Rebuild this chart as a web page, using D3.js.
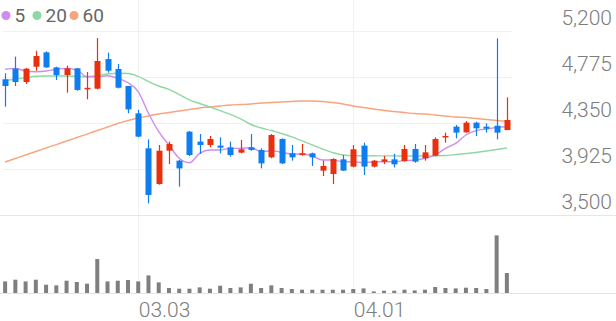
<!DOCTYPE html>
<html>
<head>
<meta charset="utf-8">
<script src="https://cdn.jsdelivr.net/npm/d3@7/dist/d3.min.js"></script>
<style>
  html, body { margin: 0; padding: 0; background: #fff; }
  svg { display: block; font-family: Roboto, "Noto Sans", sans-serif; }
</style>
</head>
<body>
<div id="chart"></div>
<script>
// trading days (MM.DD)
const dates = ["02.06","02.09","02.10","02.11","02.12","02.13","02.19","02.20","02.23","02.24",
  "02.25","02.26","02.27","03.03","03.04","03.05","03.06","03.09","03.10","03.11",
  "03.12","03.13","03.16","03.17","03.18","03.19","03.20","03.23","03.24","03.25",
  "03.26","03.27","03.30","03.31","04.01","04.02","04.03","04.06","04.07","04.08",
  "04.09","04.10","04.13","04.14","04.15","04.16","04.17","04.20","04.21","04.22"];

const open  = [4754,4852,4729,4870,5003,4864,4793,4855,4665,4667,4941,4849,4692,4439,4116,3786,4094,4002,4270,4178,
  4147,4141,4125,4076,4125,4101,4033,4202,4070,4054,4070,3910,3879,4014,3947,4141,3947,3993,4014,3999,
  4110,4024,4048,4218,4316,4264,4353,4316,4325,4285];
const high  = [4809,4963,4858,5018,5012,4870,4880,4858,4821,5135,5000,4895,4692,4470,4199,4147,4178,4010,4275,4248,
  4230,4218,4178,4193,4248,4116,4248,4208,4147,4156,4076,4002,4024,4054,4147,4168,4008,4045,4064,4147,
  4156,4147,4218,4261,4332,4368,4362,4347,5132,4587];
const low   = [4501,4692,4710,4833,4858,4747,4630,4649,4569,4661,4815,4670,4439,4218,3608,3780,3971,3762,4045,4064,
  4125,4070,4039,4070,4094,3931,4024,3971,4002,4048,3953,3860,3786,3907,3940,3870,3940,3971,3940,3993,
  3983,4002,4045,4168,4208,4261,4230,4261,4199,4285];
const close = [4692,4729,4852,4969,4864,4793,4855,4655,4675,4923,4833,4676,4476,4224,3685,4094,4156,3931,4054,4147,
  4202,4122,4054,4107,4101,3977,4239,3977,4033,4070,4033,3953,4017,3910,4107,3947,4002,4014,3968,4110,
  3993,4079,4202,4230,4261,4353,4301,4298,4261,4378];

const volume = [1160,1330,1160,1330,830,760,1230,1100,930,3400,1160,1230,1300,1160,1760,1060,500,430,430,560,
  430,730,500,560,930,500,760,500,400,330,330,330,330,330,400,460,160,230,230,330,
  260,330,600,500,460,530,500,400,5760,2000];

// moving averages as drawn
const ma5  = [4846,4855,4830,4824,4830,4846,4855,4840,4778,4778,4787,4763,4722,4639,4440,4270,4147,4024,3983,4070,
  4101,4101,4116,4116,4122,4085,4094,4079,4064,4064,4045,4008,4008,3992,3992,3983,3992,3992,3992,4002,
  4008,4024,4054,4116,4162,4239,4279,4295,4310,4316];
const ma20 = [4741,4757,4769,4782,4784,4784,4784,4781,4778,4789,4803,4809,4807,4780,4733,4692,4660,4613,4563,4530,
  4498,4465,4429,4387,4336,4304,4281,4253,4221,4184,4147,4110,4077,4054,4048,4048,4047,4046,4046,4045,
  4045,4045,4045,4050,4059,4068,4077,4091,4105,4119];
const ma60 = [3990,4022,4054,4087,4119,4151,4184,4216,4248,4281,4313,4345,4373,4396,4415,4433,4447,4461,4475,4489,
  4498,4507,4516,4521,4526,4535,4539,4544,4549,4553,4553,4549,4539,4526,4507,4493,4479,4465,4456,4447,
  4438,4433,4424,4415,4405,4401,4392,4382,4373,4364];

const priceTicks = [5200, 4775, 4350, 3925, 3500];
const dateTicks = ["03.03", "04.01"];
const maNames = ["5", "20", "60"];

const width = 616, height = 321;
const plotRight = 512;
const colUp = "#e8300e", colDown = "#0d7df0";
const maColors = ["#d08cec", "#8fd8a2", "#f8a47f"];

const svg = d3.select("#chart").append("svg")
  .attr("width", width)
  .attr("height", height);

const x = d3.scaleBand().domain(dates).range([0, plotRight]);
const cx = d => x(d) + x.bandwidth() / 2;

const y = d3.scaleLinear().domain([3500, 5200]).range([215, 31]);
const yv = d3.scaleLinear().domain([0, 6800]).range([293, 225]);

// grid
svg.append("g").selectAll("line")
  .data(priceTicks.slice(0, -1))
  .join("line")
  .attr("x1", 3).attr("x2", plotRight)
  .attr("y1", d => Math.round(y(d)) + 0.5).attr("y2", d => Math.round(y(d)) + 0.5)
  .attr("stroke", "#f1f1f1");

svg.append("g").selectAll("line")
  .data(dateTicks)
  .join("line")
  .attr("x1", d => Math.round(cx(d)) + 0.5).attr("x2", d => Math.round(cx(d)) + 0.5)
  .attr("y1", 0).attr("y2", 293)
  .attr("stroke", "#f1f1f1");

// separators
svg.append("line")
  .attr("x1", 0).attr("x2", width)
  .attr("y1", Math.round(y(3500)) + 0.5).attr("y2", Math.round(y(3500)) + 0.5)
  .attr("stroke", "#e6e6e6");
svg.append("line")
  .attr("x1", 0).attr("x2", width)
  .attr("y1", 293.5).attr("y2", 293.5)
  .attr("stroke", "#e3e3e3");

// y labels
svg.append("g").selectAll("text")
  .data(priceTicks)
  .join("text")
  .attr("x", 612)
  .attr("y", d => y(d) - 6)
  .attr("text-anchor", "end")
  .attr("font-size", "21px")
  .attr("font-weight", 300)
  .attr("fill", "#7d7d7d")
  .text(d => d3.format(",")(d));

// x labels
svg.append("g").selectAll("text")
  .data(dateTicks)
  .join("text")
  .attr("x", d => cx(d) + 0.5)
  .attr("y", 316.5)
  .attr("font-size", "21px")
  .attr("font-weight", 300)
  .attr("fill", "#7d7d7d")
  .text(d => d);

// volume
svg.append("g").selectAll("rect")
  .data(dates)
  .join("rect")
  .attr("x", d => cx(d) - 2)
  .attr("width", 4)
  .attr("y", (d, i) => yv(volume[i]))
  .attr("height", (d, i) => yv(0) - yv(volume[i]))
  .attr("fill", "#7f7f7f");

// moving averages
[ma60, ma20, ma5].forEach((ma, k) => {
  const line = d3.line()
    .x((d, i) => cx(dates[i]))
    .y(d => y(d))
    .curve(d3.curveMonotoneX);
  svg.append("path")
    .datum(ma)
    .attr("fill", "none")
    .attr("stroke", maColors[2 - k])
    .attr("stroke-width", 1.4)
    .attr("d", line);
});

// candles
const candles = svg.append("g").selectAll("g")
  .data(dates)
  .join("g");

candles.append("line")
  .attr("x1", d => Math.round(cx(d)) + 0.5).attr("x2", d => Math.round(cx(d)) + 0.5)
  .attr("y1", (d, i) => y(high[i])).attr("y2", (d, i) => y(low[i]))
  .attr("stroke", (d, i) => close[i] >= open[i] ? colUp : colDown)
  .attr("stroke-width", 1.2);

candles.append("rect")
  .attr("x", d => Math.round(cx(d)) - 2.5)
  .attr("width", 6)
  .attr("y", (d, i) => y(Math.max(open[i], close[i])))
  .attr("height", (d, i) => Math.max(1.5, Math.abs(y(open[i]) - y(close[i]))))
  .attr("fill", (d, i) => close[i] >= open[i] ? colUp : colDown);

// legend
const legend = svg.append("g");
const legX = [6, 37, 74];
maNames.forEach((n, i) => {
  legend.append("circle")
    .attr("cx", legX[i]).attr("cy", 15.5).attr("r", 4.5)
    .attr("fill", maColors[i]);
  legend.append("text")
    .attr("x", legX[i] + 8.5).attr("y", 21.5)
    .attr("font-size", "19px")
    .attr("fill", "#666")
    .text(n);
});
</script>
</body>
</html>
